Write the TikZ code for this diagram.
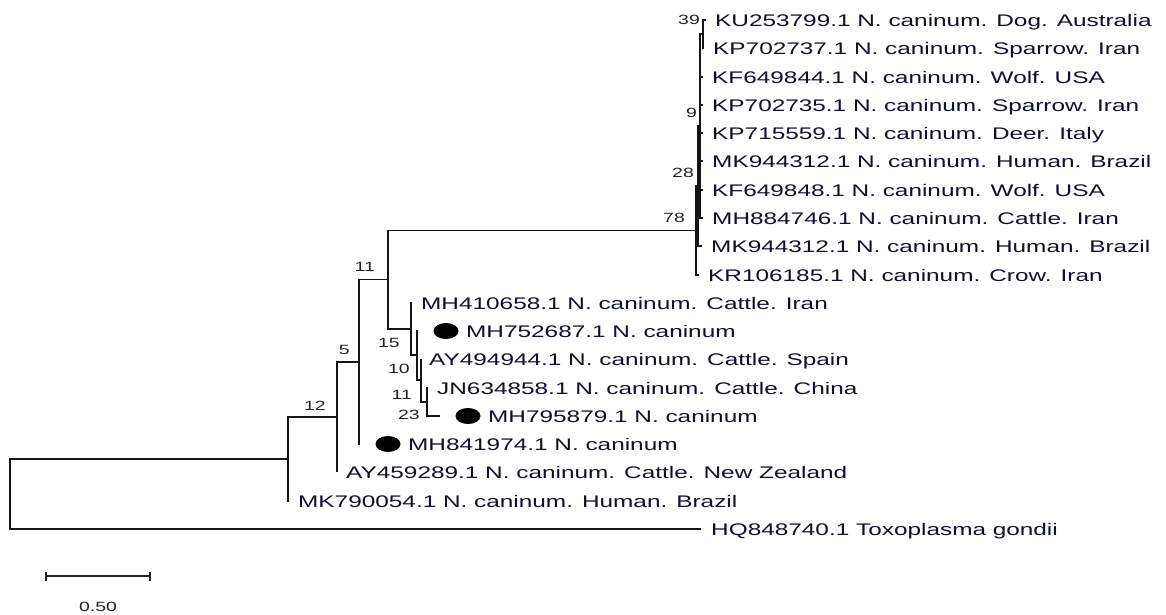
\documentclass[tikz,border=0pt]{standalone}
\usepackage{fontspec}
\usetikzlibrary{arrows.meta,positioning,calc,shapes.geometric}
\newfontfamily\taxfont[FakeStretch=1.45]{Liberation Sans}
\definecolor{ink}{RGB}{14,18,40}
\definecolor{edge}{RGB}{20,20,20}
\definecolor{muted}{RGB}{35,35,35}
\tikzset{
  branch/.style={draw=edge,line width=1.15pt},
  taxon/.style={font=\taxfont\fontsize{16.8}{18}\selectfont,text=ink,inner sep=0pt,text height=12pt,text depth=0pt,anchor=west},
  boot/.style={font=\taxfont\fontsize{13.4}{15}\selectfont,text=muted,inner sep=0pt,text height=9.5pt,text depth=0pt,anchor=east},
  blob/.style={ellipse,fill=black,inner sep=0pt,minimum width=25pt,minimum height=16pt},
  scalebar/.style={{Bar[width=9pt]}-{Bar[width=9pt]},draw=muted,line width=1.6pt}
}
\begin{document}
\begin{tikzpicture}[x=1pt,y=-1pt]
  \fill[white] (0,0) rectangle (1166,614);
  \useasboundingbox (0,0) rectangle (1166,614);
  % internal nodes
  \coordinate (root) at (10,494);
  \coordinate (n0) at (288,459);
  \coordinate (n12) at (337,417);
  \coordinate (n5) at (359,362);
  \coordinate (n11) at (388,279.5);
  \coordinate (n78) at (696,230.5);
  \coordinate (n28) at (698,186);
  \coordinate (n9) at (700,126);
  \coordinate (n39) at (703,34);
  \coordinate (n15) at (411,329);
  \coordinate (n10) at (417,355);
  \coordinate (n11b) at (421,380);
  \coordinate (n23) at (427,402);
  % tips
  \coordinate (t1) at (706,20);
  \coordinate (t2) at (704,48);
  \coordinate (t3) at (703,77);
  \coordinate (t4) at (703,105);
  \coordinate (t5) at (703,133);
  \coordinate (t6) at (703,161);
  \coordinate (t7) at (703,190);
  \coordinate (t8) at (703,218);
  \coordinate (t9) at (702,246);
  \coordinate (t10) at (699,275);
  \coordinate (t11) at (412,303);
  \coordinate (t12) at (418,331);
  \coordinate (t13) at (421,359);
  \coordinate (t14) at (428,388);
  \coordinate (t15) at (440,416);
  \coordinate (t16) at (360,444);
  \coordinate (t17) at (337,472);
  \coordinate (t18) at (289,501);
  \coordinate (t19) at (701,529);
  % branches
  \foreach \p/\c in {root/n0,root/t19,n0/n12,n0/t18,n12/n5,n12/t17,n5/n11,n5/t16,
    n11/n78,n11/n15,n78/n28,n78/t10,n28/n9,n28/t9,n9/n39,n9/t3,n9/t4,n9/t5,n9/t6,
    n9/t7,n9/t8,n39/t1,n39/t2,n15/t11,n15/n10,n10/t12,n10/n11b,n11b/t13,n11b/n23,
    n23/t14,n23/t15}
    \draw[branch] (\p) |- (\c);
  % taxa
  \node[taxon,right=9pt of t1] (lab1) {KU253799.1 N. caninum. Dog. Australia};
  \node[taxon,right=9pt of t2] (lab2) {KP702737.1 N. caninum. Sparrow. Iran};
  \node[taxon,right=9pt of t3] (lab3) {KF649844.1 N. caninum. Wolf. USA};
  \node[taxon,right=9pt of t4] (lab4) {KP702735.1 N. caninum. Sparrow. Iran};
  \node[taxon,right=9pt of t5] (lab5) {KP715559.1 N. caninum. Deer. Italy};
  \node[taxon,right=9pt of t6] (lab6) {MK944312.1 N. caninum. Human. Brazil};
  \node[taxon,right=9pt of t7] (lab7) {KF649848.1 N. caninum. Wolf. USA};
  \node[taxon,right=9pt of t8] (lab8) {MH884746.1 N. caninum. Cattle. Iran};
  \node[taxon,right=9pt of t9] (lab9) {MK944312.1 N. caninum. Human. Brazil};
  \node[taxon,right=9pt of t10] (lab10) {KR106185.1 N. caninum. Crow. Iran};
  \node[taxon,right=9pt of t11] (lab11) {MH410658.1 N. caninum. Cattle. Iran};
  \node[blob] (dot12) at ($(t12)+(28,0)$) {};
  \node[taxon,right=48pt of t12] (lab12) {MH752687.1 N. caninum};
  \node[taxon,right=8pt of t13] (lab13) {AY494944.1 N. caninum. Cattle. Spain};
  \node[taxon,right=9pt of t14] (lab14) {JN634858.1 N. caninum. Cattle. China};
  \node[blob] (dot15) at ($(t15)+(28,0)$) {};
  \node[taxon,right=48pt of t15] (lab15) {MH795879.1 N. caninum};
  \node[blob] (dot16) at ($(t16)+(28,0)$) {};
  \node[taxon,right=48pt of t16] (lab16) {MH841974.1 N. caninum};
  \node[taxon,right=9pt of t17] (lab17) {AY459289.1 N. caninum. Cattle. New Zealand};
  \node[taxon,right=9pt of t18] (lab18) {MK790054.1 N. caninum. Human. Brazil};
  \node[taxon,right=10pt of t19] (lab19) {HQ848740.1 Toxoplasma gondii};
  % bootstrap values
  \node[boot] (b39) at ($(n39)+(-3,-14)$) {39};
  \node[boot] (b9) at ($(n9)+(-3,-13)$) {9};
  \node[boot] (b28) at ($(n28)+(-4,-13)$) {28};
  \node[boot] (b78) at ($(n78)+(-11,-13)$) {78};
  \node[boot] (b11) at ($(n11)+(-13,-13)$) {11};
  \node[boot] (b5) at ($(n5)+(-9,-12)$) {5};
  \node[boot] (b12) at ($(n12)+(-11,-11)$) {12};
  \node[boot] (b15) at ($(n15)+(-11,14)$) {15};
  \node[boot] (b10) at ($(n10)+(-7,14)$) {10};
  \node[boot] (b11b) at ($(n11b)+(-9,15)$) {11};
  \node[boot] (b23) at ($(n23)+(-7,13)$) {23};
  % scale
  \coordinate (sb0) at (45,576);
  \coordinate (sb1) at (151,576);
  \draw[scalebar] (sb0) -- (sb1);
  \node[boot,anchor=center] (sblab) at (98,607) {0.50};
\end{tikzpicture}
\end{document}
